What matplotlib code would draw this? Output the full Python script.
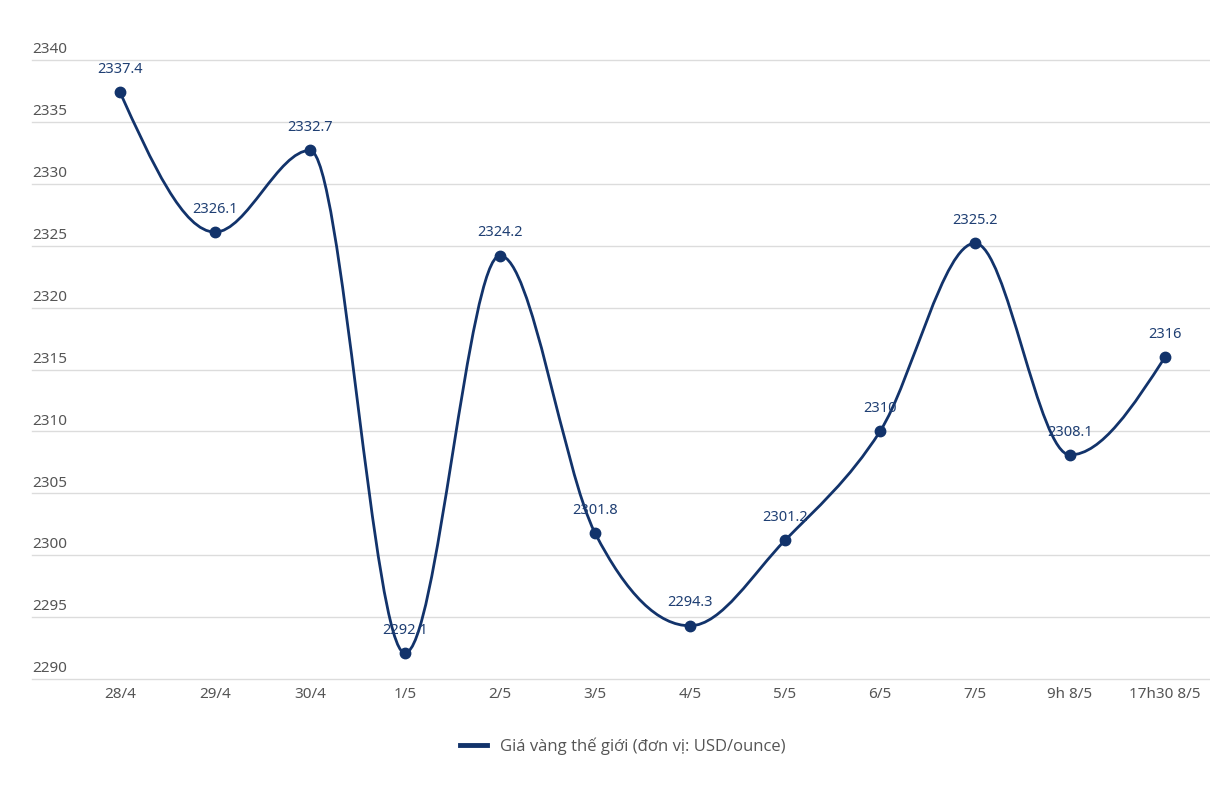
import matplotlib
matplotlib.use("Agg")
import matplotlib.pyplot as plt
from matplotlib.path import Path
from matplotlib.patches import PathPatch
from matplotlib.lines import Line2D
import matplotlib.transforms as mtransforms
import numpy as np

categories = ["28/4", "29/4", "30/4", "1/5", "2/5", "3/5", "4/5", "5/5", "6/5", "7/5", "9h 8/5", "17h30 8/5"]
values = [2337.4, 2326.1, 2332.7, 2292.1, 2324.2, 2301.8, 2294.3, 2301.2, 2310, 2325.2, 2308.1, 2316]
value_labels = ["2337.4", "2326.1", "2332.7", "2292.1", "2324.2", "2301.8", "2294.3", "2301.2", "2310", "2325.2", "2308.1", "2316"]
yticks = [2290, 2295, 2300, 2305, 2310, 2315, 2320, 2325, 2330, 2335, 2340]
series_name = "Giá vàng thế giới (đơn vị: USD/ounce)"

LINE_C = "#12336b"
LABEL_C = "#1f3f73"
TICK_C = "#555555"
GRID_C = "#dcdcdc"

fig = plt.figure(figsize=(12.10, 7.88), dpi=100)
ax = fig.add_axes([32/1210, (788-679)/788, (1210-32)/1210, (679-60)/788])
ax.set_xlim(-88/95, (1210-120)/95)
ax.set_ylim(2290, 2340)
for s in ax.spines.values():
    s.set_visible(False)

# gridlines
for t in yticks:
    ax.axhline(t, color=GRID_C, lw=1.0, zorder=0, clip_on=False)

# y tick labels above gridlines, left aligned
trans = mtransforms.blended_transform_factory(ax.transAxes, ax.transData)
off = mtransforms.offset_copy(trans, fig=fig, x=0, y=2, units="points")
for t in yticks:
    ax.text(0, t, str(t), transform=off, ha="left", va="bottom",
            fontsize=11, color=TICK_C, family="Noto Sans")
ax.set_yticks([])

x = np.arange(len(values))
ax.set_xticks(x)
ax.set_xticklabels(categories, fontsize=11, color=TICK_C, family="Noto Sans")
ax.tick_params(axis="x", length=0, pad=6)

# monotone-X cubic (d3 curveMonotoneX) path
y = np.array(values, dtype=float)
n = len(y)
s = np.diff(y)  # h = 1
m = np.zeros(n)
for i in range(1, n - 1):
    s0, s1 = s[i - 1], s[i]
    p = (s0 + s1) / 2
    m[i] = (np.sign(s0) + np.sign(s1)) * min(abs(s0), abs(s1), 0.5 * abs(p))
m[0] = (3 * s[0] - m[1]) / 2
m[-1] = (3 * s[-1] - m[-2]) / 2
verts = [(x[0], y[0])]
codes = [Path.MOVETO]
for i in range(n - 1):
    verts += [(x[i] + 1/3, y[i] + m[i] / 3), (x[i + 1] - 1/3, y[i + 1] - m[i + 1] / 3), (x[i + 1], y[i + 1])]
    codes += [Path.CURVE4] * 3
ax.add_patch(PathPatch(Path(verts, codes), facecolor="none", edgecolor=LINE_C, lw=2.0, zorder=2, capstyle="round", joinstyle="round"))
ax.plot(x, y, "o", color=LINE_C, ms=7.5, zorder=3, clip_on=False)

for xi, yi, lab in zip(x, y, value_labels):
    ax.annotate(lab, (xi, yi), xytext=(0, 11), textcoords="offset points",
                ha="center", va="bottom", fontsize=10.5, color=LABEL_C, family="Noto Sans", zorder=4)

handle = Line2D([0], [0], color=LINE_C, lw=3.5)
fig.legend([handle], [series_name], loc="center", bbox_to_anchor=(623/1210, 1 - 746/788),
           frameon=False, handlelength=1.6, handletextpad=0.8,
           prop={"family": "Open Sans", "size": 12}, labelcolor=TICK_C)

fig.savefig("out.png", dpi=100, facecolor="white")
